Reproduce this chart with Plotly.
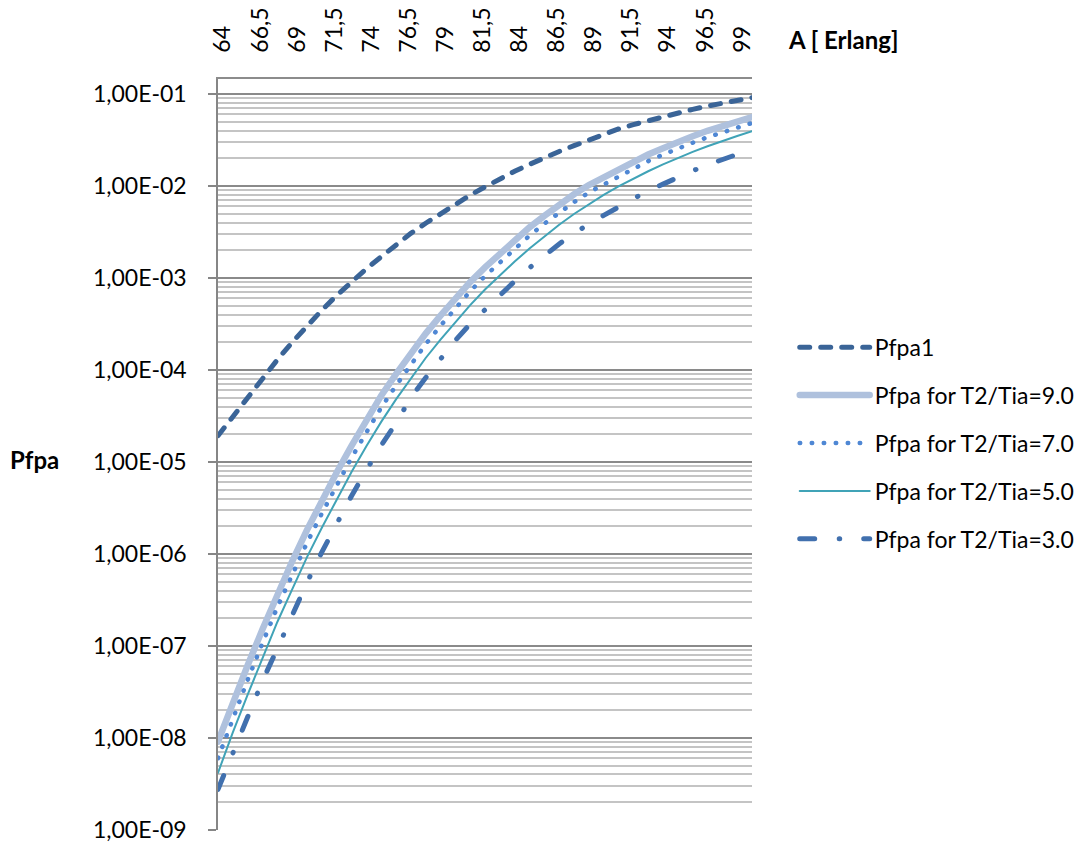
import plotly.graph_objects as go

# Offered traffic A [Erlang]
traffic = [64, 65, 66, 67, 68, 69, 70, 71, 72, 73, 74, 75, 76, 77, 78, 79, 80, 81, 82,
           83, 84, 85, 86, 87, 88, 89, 90, 91, 92, 93, 94, 95, 96, 97, 98, 99, 100]

# Probabilities stored as decimal exponents (log10 Pfpa)
pfpa1_exp = [-4.715, -4.51, -4.30, -4.085, -3.89, -3.70, -3.515, -3.35, -3.19, -3.04,
             -2.90, -2.77, -2.635, -2.515, -2.405, -2.30, -2.20, -2.10, -2.01, -1.92,
             -1.84, -1.765, -1.692, -1.625, -1.562, -1.50, -1.435, -1.38, -1.333, -1.288,
             -1.248, -1.206, -1.167, -1.132, -1.100, -1.068, -1.039]

t9_exp = [-8.04, -7.61, -7.21, -6.82, -6.43, -6.08, -5.74, -5.42, -5.115, -4.825,
          -4.55, -4.28, -4.045, -3.82, -3.605, -3.41, -3.22, -3.045, -2.885, -2.74,
          -2.59, -2.45, -2.325, -2.205, -2.09, -1.99, -1.905, -1.815, -1.735, -1.658,
          -1.59, -1.52, -1.46, -1.40, -1.35, -1.30, -1.25]

t7_exp = [-8.22, -7.78, -7.37, -6.97, -6.58, -6.23, -5.88, -5.56, -5.25, -4.955,
          -4.68, -4.41, -4.17, -3.94, -3.72, -3.52, -3.33, -3.145, -2.98, -2.83,
          -2.68, -2.54, -2.41, -2.29, -2.176, -2.07, -1.985, -1.89, -1.81, -1.73,
          -1.66, -1.59, -1.53, -1.47, -1.415, -1.365, -1.315]

t5_exp = [-8.38, -7.94, -7.53, -7.13, -6.74, -6.385, -6.035, -5.715, -5.405, -5.11,
          -4.83, -4.565, -4.32, -4.09, -3.87, -3.67, -3.48, -3.295, -3.125, -2.972,
          -2.822, -2.68, -2.546, -2.422, -2.305, -2.197, -2.097, -2.005, -1.92, -1.84,
          -1.765, -1.695, -1.63, -1.568, -1.51, -1.456, -1.405]

t3_exp = [-8.56, -8.155, -7.78, -7.38, -7.03, -6.66, -6.31, -5.98, -5.66, -5.37,
          -5.09, -4.82, -4.58, -4.30, -4.085, -3.88, -3.68, -3.50, -3.34, -3.185,
          -3.035, -2.89, -2.76, -2.63, -2.52, -2.41, -2.32, -2.23, -2.14, -2.05,
          -1.98, -1.90, -1.835, -1.77, -1.71, -1.65, -1.60]

x_tick_vals = [64, 66.5, 69, 71.5, 74, 76.5, 79, 81.5, 84, 86.5, 89, 91.5, 94, 96.5, 99]
x_tick_text = ["64", "66,5", "69", "71,5", "74", "76,5", "79", "81,5", "84",
               "86,5", "89", "91,5", "94", "96,5", "99"]
y_tick_vals = [1e-9, 1e-8, 1e-7, 1e-6, 1e-5, 1e-4, 1e-3, 1e-2, 1e-1]
y_tick_text = ["1,00E-09", "1,00E-08", "1,00E-07", "1,00E-06", "1,00E-05",
               "1,00E-04", "1,00E-03", "1,00E-02", "1,00E-01"]


def to_prob(exps):
    return [10 ** e for e in exps]


series = [
    ("Pfpa1", pfpa1_exp, dict(color="#3A6497", width=5, dash="10px,11px")),
    ("Pfpa for T2/Tia=9.0", t9_exp, dict(color="#AFC1DD", width=6.5, dash="solid")),
    ("Pfpa for T2/Tia=7.0", t7_exp, dict(color="#4F87D4", width=4.5, dash="0.5px,11.5px")),
    ("Pfpa for T2/Tia=5.0", t5_exp, dict(color="#40A3B7", width=2, dash="solid")),
    ("Pfpa for T2/Tia=3.0", t3_exp, dict(color="#4170AE", width=5, dash="15px,24.5px,0.5px,24px")),
]

FONT = "Lato"
fig = go.Figure()
for i, (name, exps, line) in enumerate(series):
    fig.add_trace(go.Scatter(
        x=traffic, y=to_prob(exps), name=name, mode="lines",
        line=line, legendgroup=f"g{i}", hoverinfo="skip",
    ))

fig.update_layout(
    width=1091, height=843,
    margin=dict(l=218, r=339, t=79, b=13, autoexpand=False),
    paper_bgcolor="white", plot_bgcolor="white",
    font=dict(family=FONT, size=23, color="#000000"),
    showlegend=True,
    legend=dict(
        x=1.08, xanchor="left", y=0.515, yanchor="middle",
        font=dict(family=FONT, size=23, color="#000000"),
        itemwidth=70, tracegroupgap=15, bgcolor="rgba(0,0,0,0)",
    ),
    xaxis=dict(
        type="linear", range=[64, 100], side="top", automargin=False,
        tickmode="array", tickvals=x_tick_vals, ticktext=x_tick_text,
        tickangle=-90, ticks="", showgrid=False, zeroline=False,
        showline=True, linecolor="#8C8C8C", linewidth=1.5,
        tickfont=dict(family=FONT, size=23), ticklabelstandoff=20,
        ticklabelshift=5,
    ),
    yaxis=dict(
        type="log", range=[-9.0015, -0.837], automargin=False,
        tickmode="array", tickvals=y_tick_vals, ticktext=y_tick_text,
        ticks="outside", ticklen=8, tickcolor="#868686", tickwidth=1.5,
        showline=True, linecolor="#868686", linewidth=1.5,
        showgrid=True, gridcolor="#8A8A8A", gridwidth=1.5,
        minor=dict(showgrid=True, dtick="D1", gridcolor="#C4C4C4", gridwidth=1.5, ticks=""),
        tickfont=dict(family=FONT, size=23), ticklabelstandoff=17,
        zeroline=False,
    ),
    annotations=[
        dict(text="<b>A [ Erlang]</b>", xref="paper", yref="paper",
             x=1.17, y=1.052, xanchor="center", yanchor="middle",
             showarrow=False, font=dict(family=FONT, size=24)),
        dict(text="<b>Pfpa</b>", xref="paper", yref="paper",
             x=-0.343, y=0.493, xanchor="center", yanchor="middle",
             showarrow=False, font=dict(family=FONT, size=24)),
    ],
)

# Round line caps so dash segments and dots are drawn with rounded ends
round_caps = """
var gd = document.getElementById('{plot_id}');
function roundCaps() {
  gd.querySelectorAll('path.js-line').forEach(function (p) {
    p.style.strokeLinecap = 'round';
  });
}
roundCaps();
gd.on('plotly_afterplot', roundCaps);
"""

fig.write_html("out.html", post_script=round_caps)
